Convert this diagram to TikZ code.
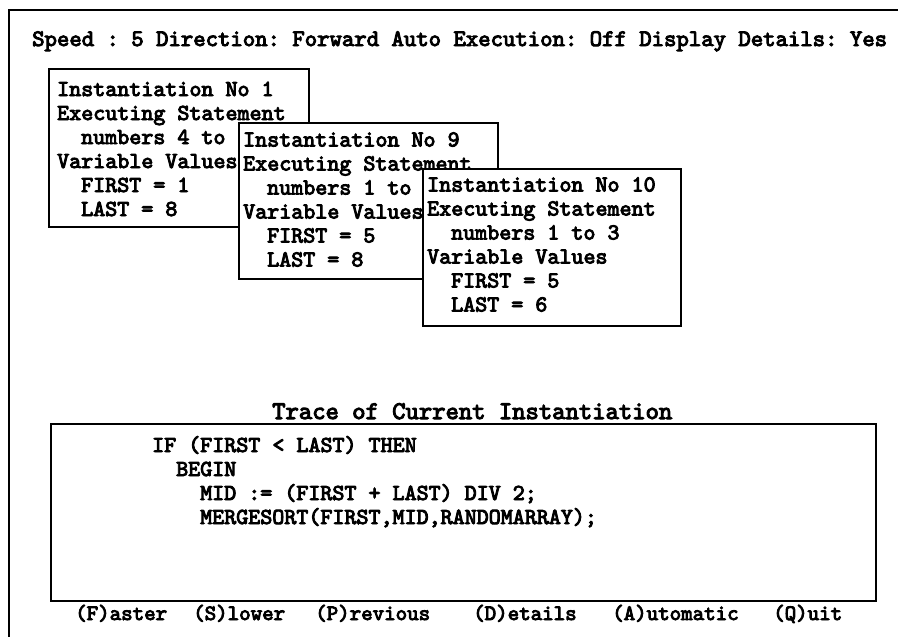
\documentclass[tikz,border=0pt]{standalone}
\usepackage{fontspec}
\setmonofont{lmmono10-regular.otf}[BoldFont=lmmono10-regular.otf, BoldFeatures={FakeBold=4}]
\begin{document}
\frenchspacing
\begin{tikzpicture}[x=1pt,y=-1pt,
  frame/.style={line width=2pt},
  win/.style={draw, line width=1.8pt, fill=white, anchor=north west, inner sep=0pt},
  txt/.style={anchor=base west, inner sep=0pt, font=\ttfamily\bfseries\frenchspacing\fontsize{22.9}{24}\selectfont},
  hdr/.style={anchor=base west, inner sep=0pt, font=\ttfamily\bfseries\frenchspacing\fontsize{23.6}{24}\selectfont},
  ttl/.style={anchor=base west, inner sep=0pt, font=\ttfamily\bfseries\frenchspacing\fontsize{25.4}{24}\selectfont},
  cmd/.style={anchor=base west, inner sep=0pt, font=\ttfamily\bfseries\frenchspacing\fontsize{21.9}{24}\selectfont}]
\useasboundingbox (0,0) rectangle (898,637);
% outer frame
\coordinate (fbl) at (9,637);
\coordinate (ftl) at (9,10);
\coordinate (ftr) at (898,10);
\draw[frame] (fbl) -- (ftl) -- (ftr);
% header
\node[hdr] (header) at (32,46) {Speed : 5 Direction: Forward Auto Execution: Off Display Details: Yes};
% window 1
\node[win, minimum width=260pt, minimum height=158pt] (w1) at (48,68) {};
\node[txt] (w1a) at (57,96) {Instantiation No 1};
\node[txt] (w1b) at (57,120) {Executing Statement};
\node[txt] (w1c) at (81,144) {numbers 4 to};
\node[txt] (w1d) at (57,168) {Variable Values};
\node[txt] (w1e) at (81,192) {FIRST = 1};
\node[txt] (w1f) at (81,216) {LAST = 8};
% window 2
\node[win, minimum width=259pt, minimum height=156pt] (w2) at (238,122) {};
\node[txt] (w2a) at (243,146.5) {Instantiation No 9};
\node[txt] (w2b) at (243,170.5) {Executing Statement};
\node[txt] (w2c) at (267,194.5) {numbers 1 to 3};
\node[txt] (w2d) at (243,218.5) {Variable Values};
\node[txt] (w2e) at (267,242.5) {FIRST = 5};
\node[txt] (w2f) at (267,266.5) {LAST = 8};
% window 3
\node[win, minimum width=258pt, minimum height=157pt] (w3) at (422,168) {};
\node[txt] (w3a) at (427,191.5) {Instantiation No 10};
\node[txt] (w3b) at (427,215.5) {Executing Statement};
\node[txt] (w3c) at (451,239.5) {numbers 1 to 3};
\node[txt] (w3d) at (427,263.5) {Variable Values};
\node[txt] (w3e) at (451,287.5) {FIRST = 5};
\node[txt] (w3f) at (451,311.5) {LAST = 6};
% trace
\node[ttl] (title) at (272,419) {Trace of Current Instantiation};
\node[win, line width=2.2pt, minimum width=825pt, minimum height=177pt] (trace) at (50,423) {};
\node[txt] (c1) at (152,452) {IF (FIRST < LAST) THEN};
\node[txt] (c2) at (176,476) {BEGIN};
\node[txt] (c3) at (200,500) {MID := (FIRST + LAST) DIV 2;};
\node[txt] (c4) at (200,524) {MERGESORT(FIRST,MID,RANDOMARRAY);};
% commands
\node[cmd] (k1) at (75,620) {(F)aster};
\node[cmd] (k2) at (193,620) {(S)lower};
\node[cmd] (k3) at (315,620) {(P)revious};
\node[cmd] (k4) at (473,620) {(D)etails};
\node[cmd] (k5) at (612,620) {(A)utomatic};
\node[cmd] (k6) at (773,620) {(Q)uit};
\end{tikzpicture}
\end{document}
